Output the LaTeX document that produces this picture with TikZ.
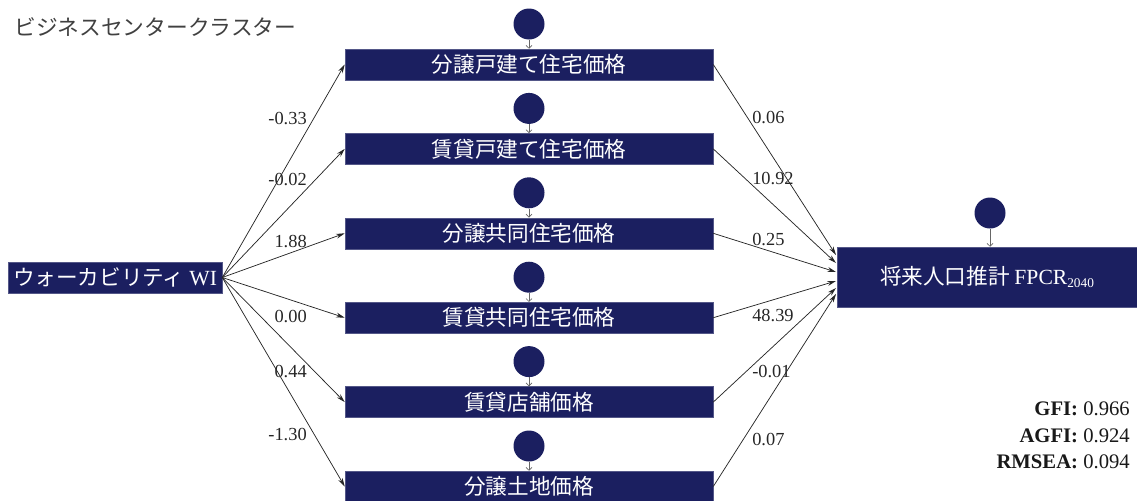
\documentclass[tikz,border=0pt]{standalone}
\usepackage{fontspec}
\setmainfont{Liberation Serif}
\newfontfamily\jp{Noto Sans CJK JP}
\usetikzlibrary{arrows.meta}
\definecolor{navy}{RGB}{27,31,96}
\begin{document}
\begin{tikzpicture}[x=0.75pt,y=-0.75pt,
  box/.style={fill=navy,draw=navy!75!white,line width=0.4pt,text=white,inner sep=0pt,
    minimum height=23.25pt,font=\jp\fontsize{16.2}{16.2}\selectfont},
  midbox/.style={box,minimum width=276pt},
  errc/.style={circle,fill=navy,minimum size=23.25pt,inner sep=0pt},
  link/.style={draw=black!85,line width=0.55pt,-{Stealth[length=6.5pt,width=3.6pt]}},
  errlink/.style={draw=black!60,line width=0.5pt,-{Straight Barb[length=2.2pt,width=4.5pt]}},
  coef/.style={font=\fontsize{13.8}{13.8}\selectfont,inner sep=0pt,text=black!85},
  fit/.style={font=\fontsize{15.5}{15.5}\selectfont,inner sep=0pt,anchor=east,text=black!90}
]
\useasboundingbox (0,0) rectangle (1137,500);
\clip (0,0) rectangle (1137,500);

\node[anchor=west,inner sep=0pt,text=black!75,font=\jp\fontsize{16.3}{16.3}\selectfont] (title) at (14,27) {ビジネスセンタークラスター};

\node[box,minimum width=160.5pt] (wi) at (115,277.5) {ウォーカビリティ {\rmfamily WI}};
\node[box,minimum width=225pt,minimum height=45pt] (fp) at (987,277) {将来人口推計 {\rmfamily FPCR{\fontsize{10}{10}\selectfont\raisebox{-0.25em}{2040}}}};
\node[errc] (efp) at (990,213) {};
\draw[errlink] (efp) -- (efp |- fp.north);

\foreach \i/\y/\t in {1/64.5/分譲戸建て住宅価格,2/148.9/賃貸戸建て住宅価格,3/233.3/分譲共同住宅価格,4/317.7/賃貸共同住宅価格,5/402.1/賃貸店舗価格,6/486.5/分譲土地価格}{
  \node[midbox] (m\i) at (529,\y) {\t};
  \node[errc] (e\i) at (529,\y-40.5) {};
  \draw[errlink] (e\i) -- (m\i.north);
  \draw[link] (wi.east) -- (m\i.west);
}

\foreach \i/\y in {1/255,2/263,3/272,4/281,5/288,6/294}{
  \coordinate (in\i) at (836,\y);
  \draw[link] (m\i.east) -- (in\i);
}

\node[coef,anchor=east] (l1) at (307,119) {-0.33};
\node[coef,anchor=east] (l2) at (307,180) {-0.02};
\node[coef,anchor=east] (l3) at (307,242) {1.88};
\node[coef,anchor=east] (l4) at (307,317) {0.00};
\node[coef,anchor=east] (l5) at (307,372) {0.44};
\node[coef,anchor=east] (l6) at (307,435) {-1.30};

\node[coef,anchor=west] (r1) at (752,118) {0.06};
\node[coef,anchor=west] (r2) at (752,179) {10.92};
\node[coef,anchor=west] (r3) at (752,240) {0.25};
\node[coef,anchor=west] (r4) at (752,316) {48.39};
\node[coef,anchor=west] (r5) at (752,372) {-0.01};
\node[coef,anchor=west] (r6) at (752,440) {0.07};

\node[fit] (gfi) at (1130,409) {\textbf{GFI:} 0.966};
\node[fit] (agfi) at (1130,436) {\textbf{AGFI:} 0.924};
\node[fit] (rmsea) at (1130,462) {\textbf{RMSEA:} 0.094};
\end{tikzpicture}
\end{document}
